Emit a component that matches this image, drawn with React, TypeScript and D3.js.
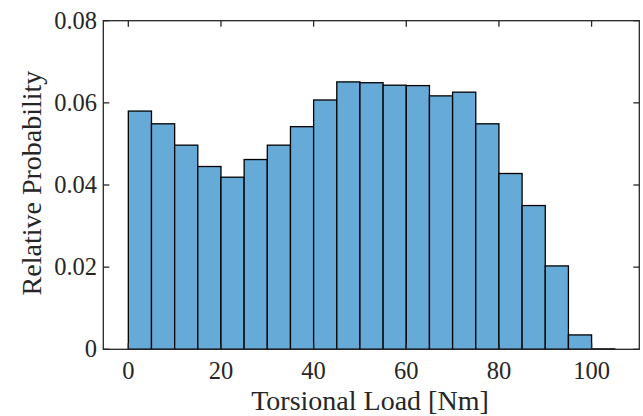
import React from "react";
import * as d3 from "d3";

// histogram bins (left edges, Nm) and relative probabilities
const binEdges = [0, 5, 10, 15, 20, 25, 30, 35, 40, 45, 50, 55, 60, 65, 70, 75, 80, 85, 90, 95, 100];
const probs = [0.0580, 0.0549, 0.0497, 0.0445, 0.0419, 0.0462, 0.0497, 0.0542, 0.0607, 0.0651, 0.0649,
  0.0643, 0.0642, 0.0617, 0.0626, 0.0549, 0.0428, 0.0350, 0.0203, 0.0035, 0.0001];
const binWidth = 5;
const xTicks = [0, 20, 40, 60, 80, 100];
const yTicks = [0, 0.02, 0.04, 0.06, 0.08];
const yTickLabels = ["0", "0.02", "0.04", "0.06", "0.08"];

const W = 643, H = 416;
const m = { left: 103.3, right: 639.3, top: 20.7, bottom: 349.3 };
const font = "'Liberation Serif', 'DejaVu Serif', serif";
const axisCol = "#262626";

export default function App() {
  const x = d3.scaleLinear().domain([-5.4, 110.3]).range([m.left, m.right]);
  const y = d3.scaleLinear().domain([0, 0.08]).range([m.bottom, m.top]);
  const tl = 6;

  return (
    <svg width={W} height={H} style={{ position: "absolute", left: 0, top: 0, background: "#fff" }}>
      {binEdges.map((e, i) => (
        <rect key={i} x={x(e)} y={y(probs[i])} width={x(e + binWidth) - x(e)} height={y(0) - y(probs[i])}
          fill="rgb(102,170,215)" stroke="#000" strokeWidth={1.3} />
      ))}
      <rect x={m.left} y={m.top} width={m.right - m.left} height={m.bottom - m.top}
        fill="none" stroke={axisCol} strokeWidth={1.3} />
      {xTicks.map((t) => (
        <g key={"x" + t}>
          <line x1={x(t)} x2={x(t)} y1={m.bottom} y2={m.bottom - tl} stroke={axisCol} strokeWidth={1.3} />
          <line x1={x(t)} x2={x(t)} y1={m.top} y2={m.top + tl} stroke={axisCol} strokeWidth={1.3} />
          <text x={x(t)} y={378.5} textAnchor="middle" fontFamily={font} fontSize={24.5} fill={axisCol}>{t}</text>
        </g>
      ))}
      {yTicks.map((t, i) => (
        <g key={"y" + t}>
          <line x1={m.left} x2={m.left + tl} y1={y(t)} y2={y(t)} stroke={axisCol} strokeWidth={1.3} />
          <line x1={m.right} x2={m.right - tl} y1={y(t)} y2={y(t)} stroke={axisCol} strokeWidth={1.3} />
          <text x={97} y={y(t) + 8} textAnchor="end" fontFamily={font} fontSize={24.5} fill={axisCol}>{yTickLabels[i]}</text>
        </g>
      ))}
      <text x={370} y={410} textAnchor="middle" fontFamily={font} fontSize={28} fill={axisCol}>Torsional Load [Nm]</text>
      <text transform="translate(41,183) rotate(-90)" textAnchor="middle" fontFamily={font} fontSize={28}
        fill={axisCol}>Relative Probability</text>
    </svg>
  );
}
